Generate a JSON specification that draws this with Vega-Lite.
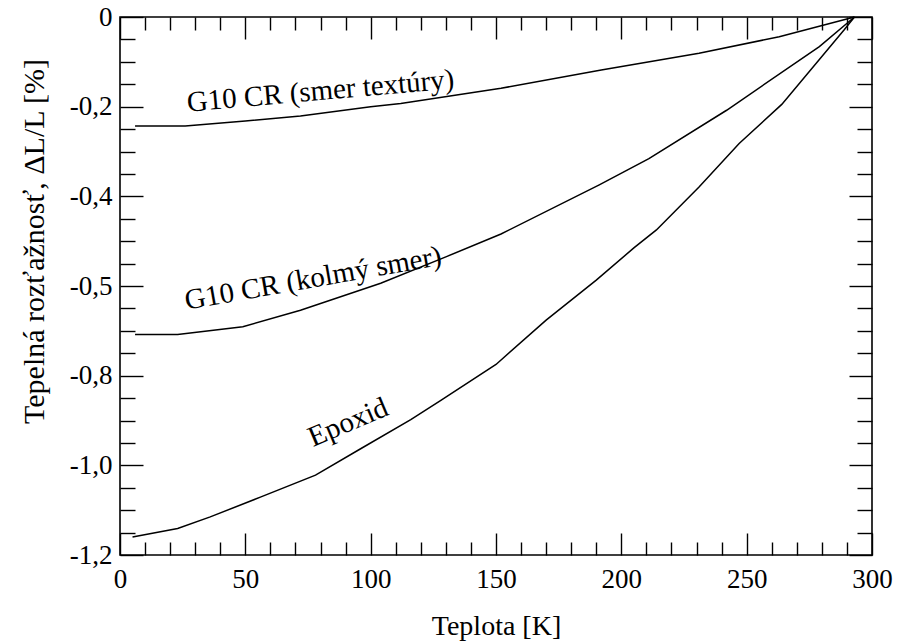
{
  "$schema": "https://vega.github.io/schema/vega-lite/v6.json",
  "width": 752,
  "height": 538,
  "autosize": {"type": "none"},
  "padding": {"left": 120, "top": 17, "right": 26, "bottom": 89},
  "background": "white",
  "config": {
    "view": {"stroke": "#000", "strokeWidth": 1.6},
    "font": "Liberation Serif",
    "axis": {
      "domain": false,
      "grid": false,
      "tickColor": "#000",
      "tickWidth": 1.4,
      "labelColor": "#000",
      "titleColor": "#000",
      "labelFont": "Liberation Serif",
      "titleFont": "Liberation Serif",
      "labelFontSize": 27,
      "titleFontSize": 28,
      "titleFontWeight": "normal"
    }
  },
  "datasets": {
    "curves": [
      {"series": "textury", "T": 6, "v": -0.243},
      {"series": "textury", "T": 26, "v": -0.243},
      {"series": "textury", "T": 50, "v": -0.232},
      {"series": "textury", "T": 72, "v": -0.221},
      {"series": "textury", "T": 100, "v": -0.2},
      {"series": "textury", "T": 112, "v": -0.193},
      {"series": "textury", "T": 152, "v": -0.159},
      {"series": "textury", "T": 192, "v": -0.118},
      {"series": "textury", "T": 231, "v": -0.081},
      {"series": "textury", "T": 263, "v": -0.044},
      {"series": "textury", "T": 293, "v": 0},
      {"series": "kolmy", "T": 6, "v": -0.708},
      {"series": "kolmy", "T": 23, "v": -0.708},
      {"series": "kolmy", "T": 49, "v": -0.691},
      {"series": "kolmy", "T": 72, "v": -0.654},
      {"series": "kolmy", "T": 104, "v": -0.594},
      {"series": "kolmy", "T": 130, "v": -0.535},
      {"series": "kolmy", "T": 152, "v": -0.484},
      {"series": "kolmy", "T": 191, "v": -0.375},
      {"series": "kolmy", "T": 211, "v": -0.316},
      {"series": "kolmy", "T": 242, "v": -0.208},
      {"series": "kolmy", "T": 279, "v": -0.066},
      {"series": "kolmy", "T": 293, "v": 0},
      {"series": "epoxid", "T": 5, "v": -1.16},
      {"series": "epoxid", "T": 23, "v": -1.141},
      {"series": "epoxid", "T": 36, "v": -1.115},
      {"series": "epoxid", "T": 56, "v": -1.071},
      {"series": "epoxid", "T": 78, "v": -1.022},
      {"series": "epoxid", "T": 96, "v": -0.963},
      {"series": "epoxid", "T": 116, "v": -0.898},
      {"series": "epoxid", "T": 128, "v": -0.855},
      {"series": "epoxid", "T": 150, "v": -0.775},
      {"series": "epoxid", "T": 170, "v": -0.676},
      {"series": "epoxid", "T": 190, "v": -0.587},
      {"series": "epoxid", "T": 205, "v": -0.515},
      {"series": "epoxid", "T": 214, "v": -0.475},
      {"series": "epoxid", "T": 231, "v": -0.379},
      {"series": "epoxid", "T": 247, "v": -0.282},
      {"series": "epoxid", "T": 264, "v": -0.195},
      {"series": "epoxid", "T": 289, "v": -0.028},
      {"series": "epoxid", "T": 293, "v": 0}
    ]
  },
  "layer": [
    {
      "data": {"name": "curves"},
      "mark": {"type": "line", "color": "#000", "strokeWidth": 1.5},
      "encoding": {
        "x": {
          "field": "T", "type": "quantitative",
          "scale": {"domain": [0, 300], "nice": false, "zero": false},
          "axis": {
            "orient": "bottom", "title": "Teplota [K]",
            "values": [0, 50, 100, 150, 200, 250, 300],
            "tickSize": -22, "labelPadding": 33, "titlePadding": 20,
            "labelFlush": false
          }
        },
        "y": {
          "field": "v", "type": "quantitative",
          "scale": {"domain": [-1.2, 0], "nice": false, "zero": false},
          "axis": {
            "orient": "left", "title": "Tepelná rozťažnosť, ΔL/L [%]",
            "values": [0, -0.2, -0.4, -0.6, -0.8, -1.0, -1.2],
            "labelExpr": "datum.value == 0 ? '0' : (abs(datum.value + 0.6) < 0.001 ? '-0,5' : '-' + replace(format(abs(datum.value), '.1f'), '.', ','))",
            "tickSize": -23, "labelPadding": 31, "titlePadding": 20,
            "titleFontSize": 30, "titleY": 224,
            "labelFlush": false
          }
        },
        "detail": {"field": "series"}
      }
    },
    {
      "data": {"values": [{"T": 80, "v": -0.165, "label": "G10 CR (smer textúry)"}]},
      "mark": {"type": "text", "angle": 355, "fontSize": 29, "font": "Liberation Serif", "color": "#000", "align": "center", "baseline": "middle"},
      "encoding": {
        "x": {
          "field": "T", "type": "quantitative",
          "scale": {"domain": [0, 300], "nice": false, "zero": false},
          "axis": {
            "orient": "bottom", "title": null, "labels": false,
            "values": [10, 20, 30, 40, 60, 70, 80, 90, 110, 120, 130, 140, 160, 170, 180, 190, 210, 220, 230, 240, 260, 270, 280, 290],
            "tickSize": -13
          }
        },
        "y": {
          "field": "v", "type": "quantitative",
          "scale": {"domain": [-1.2, 0], "nice": false, "zero": false},
          "axis": {
            "orient": "left", "title": null, "labels": false,
            "values": [-0.05, -0.1, -0.15, -0.25, -0.3, -0.35, -0.45, -0.5, -0.55, -0.65, -0.7, -0.75, -0.85, -0.9, -0.95, -1.05, -1.1, -1.15],
            "tickSize": -15
          }
        },
        "text": {"field": "label"}
      }
    },
    {
      "data": {"values": [{"T": 77, "v": -0.583, "label": "G10 CR (kolmý smer)"}]},
      "mark": {"type": "text", "angle": 350, "fontSize": 29, "font": "Liberation Serif", "color": "#000", "align": "center", "baseline": "middle"},
      "encoding": {
        "x": {
          "field": "T", "type": "quantitative",
          "scale": {"domain": [0, 300], "nice": false, "zero": false},
          "axis": {
            "orient": "top", "title": null, "labels": false,
            "values": [0, 50, 100, 150, 200, 250, 300],
            "tickSize": -22
          }
        },
        "y": {
          "field": "v", "type": "quantitative",
          "scale": {"domain": [-1.2, 0], "nice": false, "zero": false},
          "axis": {
            "orient": "right", "title": null, "labels": false,
            "values": [0, -0.2, -0.4, -0.6, -0.8, -1.0, -1.2],
            "tickSize": -23
          }
        },
        "text": {"field": "label"}
      }
    },
    {
      "data": {"values": [{"T": 91, "v": -0.904, "label": "Epoxid"}]},
      "mark": {"type": "text", "angle": 337, "fontSize": 29, "font": "Liberation Serif", "color": "#000", "align": "center", "baseline": "middle"},
      "encoding": {
        "x": {
          "field": "T", "type": "quantitative",
          "scale": {"domain": [0, 300], "nice": false, "zero": false},
          "axis": {
            "orient": "top", "title": null, "labels": false,
            "values": [10, 20, 30, 40, 60, 70, 80, 90, 110, 120, 130, 140, 160, 170, 180, 190, 210, 220, 230, 240, 260, 270, 280, 290],
            "tickSize": -13
          }
        },
        "y": {
          "field": "v", "type": "quantitative",
          "scale": {"domain": [-1.2, 0], "nice": false, "zero": false},
          "axis": {
            "orient": "right", "title": null, "labels": false,
            "values": [-0.05, -0.1, -0.15, -0.25, -0.3, -0.35, -0.45, -0.5, -0.55, -0.65, -0.7, -0.75, -0.85, -0.9, -0.95, -1.05, -1.1, -1.15],
            "tickSize": -15
          }
        },
        "text": {"field": "label"}
      }
    }
  ],
  "resolve": {"axis": {"x": "independent", "y": "independent"}}
}
